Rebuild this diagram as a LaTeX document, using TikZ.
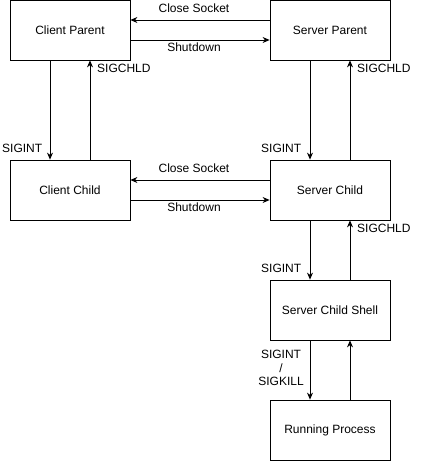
\documentclass[tikz,border=0pt]{standalone}
\usepackage{fontspec}
\setmainfont{Liberation Sans}
\usetikzlibrary{arrows.meta}
\begin{document}
\begin{tikzpicture}[x=1pt, y=-1pt, every node/.style={font=\fontsize{12}{13.5}\selectfont},
    proc/.style={draw, thick, minimum width=120pt, minimum height=60pt, inner sep=0pt},
    sig/.style={draw, thick, -{Stealth[length=7pt, width=6pt]}},
    lbl/.style={inner sep=1pt}]
  \useasboundingbox (0,0) rectangle (426,462);
  \node[proc] (cp) at (70,30)  {Client Parent};
  \node[proc] (sp) at (330,30) {Server Parent};
  \node[proc] (cc) at (70,190) {Client Child};
  \node[proc] (sc) at (330,190) {Server Child};
  \node[proc] (sh) at (330,310) {Server Child Shell};
  \node[proc] (rp) at (330,430) {Running Process};
  % socket messages
  \draw[sig] ([yshift=10pt]sp.west) -- ([yshift=10pt]cp.east);
  \draw[sig] ([yshift=-10pt]cp.east) -- ([yshift=-10pt]sp.west);
  \node[lbl] at (194,8)  {Close Socket};
  \node[lbl] at (194,47) {Shutdown};
  \draw[sig] ([yshift=10pt]sc.west) -- ([yshift=10pt]cc.east);
  \draw[sig] ([yshift=-10pt]cc.east) -- ([yshift=-10pt]sc.west);
  \node[lbl] at (194,168) {Close Socket};
  \node[lbl] at (194,207) {Shutdown};
  % signals
  \draw[sig] ([xshift=-20pt]cp.south) -- ([xshift=-20pt]cc.north);
  \draw[sig] ([xshift=20pt]cc.north) -- ([xshift=20pt]cp.south);
  \node[lbl, anchor=west] at (1,148)  {SIGINT};
  \node[lbl, anchor=west] at (96,68)  {SIGCHLD};
  \draw[sig] ([xshift=-20pt]sp.south) -- ([xshift=-20pt]sc.north);
  \draw[sig] ([xshift=20pt]sc.north) -- ([xshift=20pt]sp.south);
  \node[lbl, anchor=west] at (260,148) {SIGINT};
  \node[lbl, anchor=west] at (356,68)  {SIGCHLD};
  \draw[sig] ([xshift=-20pt]sc.south) -- ([xshift=-20pt]sh.north);
  \draw[sig] ([xshift=20pt]sh.north) -- ([xshift=20pt]sc.south);
  \node[lbl, anchor=west] at (260,268) {SIGINT};
  \node[lbl, anchor=west] at (356,228) {SIGCHLD};
  \draw[sig] ([xshift=-20pt]sh.south) -- ([xshift=-20pt]rp.north);
  \draw[sig] ([xshift=20pt]rp.north) -- ([xshift=20pt]sh.south);
  \node[lbl, align=center] at (281,368) {SIGINT\\/\\SIGKILL};
\end{tikzpicture}
\end{document}
